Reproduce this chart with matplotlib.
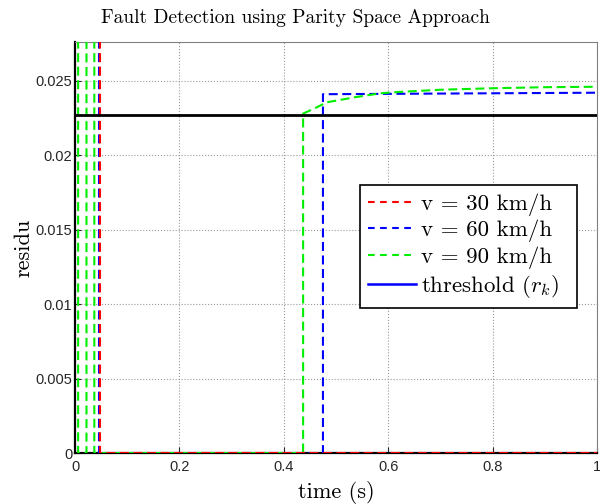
import matplotlib
matplotlib.use('Agg')
import matplotlib.pyplot as plt
from matplotlib.lines import Line2D

# residual signals r(t) for each vehicle speed
t_30 = [0.0, 0.048, 0.048, 1.0]
r_30 = [0.05, 0.05, 0.0, 0.0]

t_60 = [0.0, 0.046, 0.046, 0.475, 0.475, 1.0]
r_60 = [0.05, 0.05, 0.0, 0.0, 0.0241, 0.0242]

t_90 = [0.0, 0.006, 0.006, 0.022, 0.022, 0.037, 0.037, 0.437, 0.437,
        0.456, 0.483, 0.537, 0.585, 0.62, 0.7, 0.8, 0.9, 1.0]
r_90 = [0.05, 0.05, 0.0, 0.0, 0.05, 0.05, 0.0, 0.0, 0.0228,
        0.0231, 0.02356, 0.0239, 0.02416, 0.02425, 0.0244, 0.0245, 0.02457, 0.0246]

threshold = 0.0227

xticks = [0, 0.2, 0.4, 0.6, 0.8, 1]
xticklabels = ['0', '0.2', '0.4', '0.6', '0.8', '1']
yticks = [0, 0.005, 0.01, 0.015, 0.02, 0.025]
yticklabels = ['0', '0.005', '0.01', '0.015', '0.02', '0.025']

plt.rcParams['mathtext.fontset'] = 'cm'
serif = 'cmr10'

fig = plt.figure(figsize=(6, 5.04), dpi=100)
ax = fig.add_axes([0.125, 0.101, 0.87, 0.8155])

dash = (0, (4.3, 2.2))
ax.plot(t_30, r_30, color='#ff0000', lw=1.5, linestyle=dash, zorder=4)
ax.plot(t_60, r_60, color='#0000ff', lw=1.5, linestyle=dash, zorder=3)
ax.plot(t_90, r_90, color='#00ee00', lw=1.5, linestyle=dash, zorder=3)
ax.axhline(threshold, color='black', lw=2.0, zorder=5)

ax.set_xlim(0, 1)
ax.set_ylim(0, 0.0276)
ax.set_xticks(xticks)
ax.set_xticklabels(xticklabels, family='Liberation Sans', fontsize=10.5)
ax.set_yticks(yticks)
ax.set_yticklabels(yticklabels, family='Liberation Sans', fontsize=10.5)
ax.tick_params(direction='in', length=4, colors='#262626')
ax.tick_params(axis='y', pad=2)
ax.tick_params(axis='x', pad=5)
ax.grid(True, linestyle=':', color='0.6', lw=0.8)

for side in ['left', 'bottom']:
    ax.spines[side].set_linewidth(1.6)
    ax.spines[side].set_color('black')
for side in ['top', 'right']:
    ax.spines[side].set_linewidth(0.8)
    ax.spines[side].set_color('0.5')

fig.text(0.493, 0.964, 'Fault Detection using Parity Space Approach',
         family=serif, fontsize=14, ha='center', va='center')
ax.set_xlabel('time (s)', family=serif, fontsize=16)
ax.set_ylabel('residu', family=serif, fontsize=16)
ax.xaxis.set_label_coords(0.5, -0.068)
ax.yaxis.set_label_coords(-0.08, 0.5)

handles = [
    Line2D([], [], color='#ff0000', lw=1.5, linestyle=(0, (3.2, 2.6))),
    Line2D([], [], color='#0000ff', lw=1.5, linestyle=(0, (3.2, 2.6))),
    Line2D([], [], color='#00ee00', lw=1.5, linestyle=(0, (3.2, 2.6))),
    Line2D([], [], color='#0000ff', lw=1.8),
]
labels = ['v = 30 km/h', 'v = 60 km/h', 'v = 90 km/h', r'threshold $(r_k)$']
leg = ax.legend(handles, labels, loc='upper left', mode='expand',
                bbox_to_anchor=(0.546, 0.352, 0.4157, 0.3),
                borderaxespad=0, prop={'family': serif, 'size': 16.5}, fancybox=False,
                framealpha=1, edgecolor='black', handlelength=2.1, handletextpad=0.2,
                borderpad=0.35, labelspacing=0.18)
leg.get_frame().set_linewidth(1.2)

fig.savefig('out.png', dpi=100)
